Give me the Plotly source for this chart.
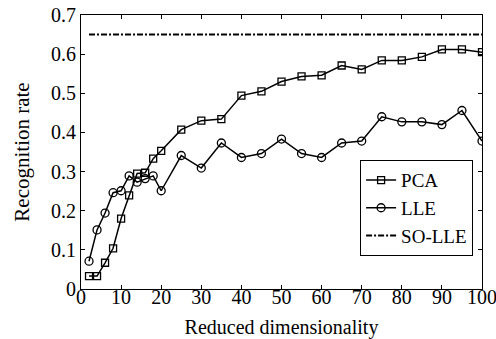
import plotly.graph_objects as go

dims = [2, 4, 6, 8, 10, 12, 14, 16, 18, 20, 25, 30, 35, 40, 45, 50, 55, 60, 65, 70, 75, 80, 85, 90, 95, 100]
pca = [0.033, 0.033, 0.067, 0.104, 0.180, 0.239, 0.295, 0.297, 0.333, 0.353, 0.407, 0.430, 0.434, 0.494, 0.505, 0.530, 0.543, 0.546, 0.571, 0.561, 0.584, 0.584, 0.593, 0.612, 0.612, 0.605]
lle = [0.071, 0.151, 0.194, 0.246, 0.251, 0.289, 0.273, 0.282, 0.289, 0.251, 0.341, 0.309, 0.373, 0.336, 0.346, 0.383, 0.346, 0.336, 0.373, 0.378, 0.440, 0.427, 0.427, 0.420, 0.456, 0.378]
so_lle_x = [2, 100]
so_lle = [0.65, 0.65]

font = "Liberation Serif"
fs = 20

fig = go.Figure()
fig.add_trace(go.Scatter(x=dims, y=pca, name="PCA", mode="lines+markers",
                         line=dict(color="black", width=1.5),
                         marker=dict(symbol="square-open", size=7, color="black", line=dict(width=1.3))))
fig.add_trace(go.Scatter(x=dims, y=lle, name="LLE", mode="lines+markers",
                         line=dict(color="black", width=1.5),
                         marker=dict(symbol="circle-open", size=8, color="black", line=dict(width=1.3))))
fig.add_trace(go.Scatter(x=so_lle_x, y=so_lle, name="SO-LLE", mode="lines",
                         line=dict(color="black", width=2, dash="6px,2px,2px,2px")))

axis_common = dict(showline=True, linecolor="black", linewidth=1, mirror="ticks",
                   ticks="inside", ticklen=4, tickcolor="black", showgrid=False, zeroline=False,
                   automargin=False, ticklabeloverflow="allow",
                   tickfont=dict(family=font, size=fs, color="black"))

fig.update_xaxes(range=[0, 100], dtick=10, tick0=0, ticklabelstandoff=-10,
                 title=dict(text="Reduced dimensionality", font=dict(family=font, size=fs, color="black")),
                 **axis_common)
fig.update_yaxes(range=[0, 0.7], dtick=0.1, tick0=0, tickformat=".1~f",
                 title=dict(text="Recognition rate", font=dict(family=font, size=21, color="black")),
                 **axis_common)

fig.update_layout(
    width=496, height=339,
    margin=dict(l=81, r=14, t=15, b=50),
    plot_bgcolor="white", paper_bgcolor="white",
    font=dict(family=font, size=fs, color="black"),
    legend=dict(x=0.696, y=0.47, xanchor="left", yanchor="top",
                bordercolor="black", borderwidth=1, bgcolor="white",
                font=dict(family=font, size=19, color="black"),
                itemwidth=30, tracegroupgap=0),
    showlegend=True,
)

fig.write_html("out.html", config={"displayModeBar": False},
               post_script="document.body.style.margin='0';document.body.style.overflow='hidden';")
